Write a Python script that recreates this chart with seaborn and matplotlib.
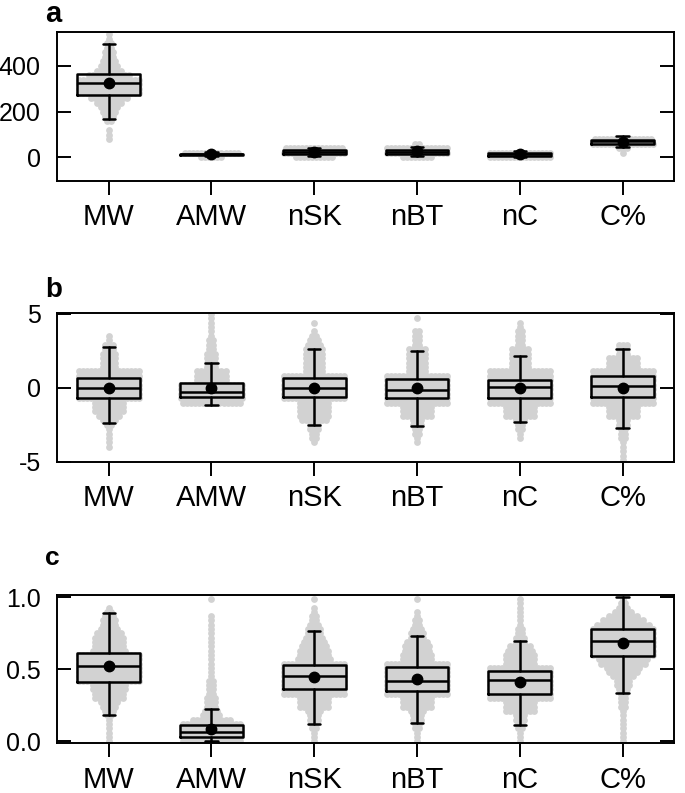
import numpy as np
import pandas as pd
import seaborn as sns
import matplotlib.pyplot as plt

cats = ['MW', 'AMW', 'nSK', 'nBT', 'nC', 'C%']

# ---- panel a: raw descriptors ----
a_q1 = [272, 11, 13, 15, 8, 60]
a_med = [324, 14, 22, 25, 14, 70]
a_q3 = [363, 17, 32, 33, 19, 77]
a_lo = [169, 4, 6, 6, 2, 46]
a_hi = [496, 25, 42, 47, 28, 92]
a_mean = [324, 15, 24, 27, 15, 66]
a_levels = [540, 520, 500, 480, 460, 440, 420, 400, 380, 360, 340, 320, 300, 280,
            260, 240, 220, 200, 180, 160, 140, 120, 100, 80, 60, 40, 20, 0]
a_counts = {
    'MW': [1, 1, 2, 2, 3, 3, 4, 5, 7, 11, 16, 16, 16, 16, 10, 7, 5, 4, 3, 2, 0, 1, 1, 1, 0, 0, 0, 0],
    'AMW': [0] * 26 + [14, 6],
    'nSK': [0] * 25 + [15, 16, 10],
    'nBT': [0] * 24 + [2, 16, 16, 8],
    'nC': [0] * 26 + [16, 16],
    'C%': [0] * 23 + [15, 16, 3, 1, 0],
}

# ---- panel b: standardised ----
b_q1 = [-0.72, -0.61, -0.65, -0.70, -0.68, -0.65]
b_med = [0.0, -0.27, 0.0, -0.16, 0.07, 0.14]
b_q3 = [0.68, 0.29, 0.63, 0.60, 0.52, 0.81]
b_lo = [-2.41, -1.19, -2.52, -2.57, -2.34, -2.75]
b_hi = [2.72, 1.64, 2.59, 2.50, 2.16, 2.61]
b_mean = [0.0, 0.0, 0.0, 0.0, 0.0, 0.0]
b_levels = [5.0, 4.7, 4.4, 4.1, 3.8, 3.5, 3.2, 2.9, 2.6, 2.3, 2.0, 1.7, 1.4, 1.1, 0.8, 0.5, 0.2,
            -0.1, -0.4, -0.7, -1.0, -1.3, -1.6, -1.9, -2.2, -2.5, -2.8, -3.1, -3.4, -3.7, -4.0,
            -4.3, -4.6, -4.9]
b_counts = {
    'MW': [0, 0, 0, 0, 0, 1, 1, 3, 3, 4, 4, 4, 4, 16, 16, 16, 16, 16, 16, 16,
           8, 8, 8, 6, 4, 2, 1, 1, 1, 1, 1, 0, 0, 0],
    'AMW': [1, 1, 1, 1, 1, 1, 2, 2, 2, 3, 3, 3, 3, 8, 8, 8, 16, 16, 16, 16,
            15, 0, 0, 0, 0, 0, 0, 0, 0, 0, 0, 0, 0, 0],
    'nSK': [0, 0, 1, 0, 1, 2, 3, 4, 5, 5, 5, 5, 5, 5, 16, 16, 16, 16, 16, 16,
            8, 8, 8, 8, 7, 3, 3, 2, 2, 1, 0, 0, 0, 0],
    'nBT': [0, 1, 0, 0, 2, 2, 2, 2, 5, 5, 5, 5, 5, 5, 16, 16, 16, 16, 16, 16,
            16, 8, 8, 8, 3, 3, 2, 2, 1, 1, 0, 0, 0, 0],
    'nC': [0, 0, 1, 1, 2, 2, 2, 2, 5, 5, 5, 5, 5, 16, 16, 16, 16, 16, 16, 16,
           16, 8, 8, 8, 3, 2, 2, 1, 1, 0, 0, 0, 0, 0],
    'C%': [0, 0, 0, 0, 0, 0, 0, 3, 3, 3, 8, 8, 8, 16, 16, 16, 16, 16, 16, 16,
           16, 8, 8, 8, 3, 3, 2, 2, 2, 1, 1, 1, 1, 1],
}

# ---- panel c: min-max scaled ----
c_q1 = [0.415, 0.03, 0.36, 0.35, 0.33, 0.595]
c_med = [0.525, 0.065, 0.45, 0.42, 0.425, 0.70]
c_q3 = [0.61, 0.11, 0.53, 0.515, 0.49, 0.78]
c_lo = [0.185, 0.0, 0.12, 0.125, 0.115, 0.335]
c_hi = [0.89, 0.225, 0.765, 0.735, 0.70, 1.0]
c_mean = [0.52, 0.085, 0.443, 0.435, 0.415, 0.68]
c_levels = [0.99, 0.96, 0.93, 0.90, 0.87, 0.84, 0.81, 0.78, 0.75, 0.72, 0.69, 0.66, 0.63,
            0.60, 0.57, 0.54, 0.51, 0.48, 0.45, 0.42, 0.39, 0.36, 0.33, 0.30, 0.27, 0.24,
            0.21, 0.18, 0.15, 0.12, 0.09, 0.06, 0.03, 0.00]
c_counts = {
    'MW': [0, 0, 1, 2, 3, 4, 4, 5, 7, 8, 8, 8, 9, 16, 16, 16, 16, 16, 16, 16,
           9, 9, 8, 8, 5, 4, 3, 2, 1, 1, 1, 1, 1, 1],
    'AMW': [1, 0, 0, 0, 1, 1, 1, 1, 1, 1, 1, 1, 1, 1, 1, 1, 1, 1, 1, 2,
            2, 2, 2, 3, 3, 3, 4, 5, 10, 15, 15, 15, 15, 15],
    'nSK': [1, 0, 1, 1, 2, 2, 3, 4, 4, 5, 6, 7, 8, 8, 9, 16, 16, 16, 16, 16,
            16, 16, 16, 8, 8, 8, 4, 3, 3, 2, 2, 1, 1, 1],
    'nBT': [1, 0, 0, 1, 1, 2, 2, 3, 4, 4, 6, 7, 7, 8, 8, 16, 16, 16, 16, 16,
            16, 16, 16, 8, 8, 8, 4, 3, 3, 2, 2, 1, 1, 1],
    'nC': [1, 1, 1, 1, 1, 1, 1, 2, 2, 3, 3, 6, 7, 8, 8, 8, 16, 16, 16, 16,
           16, 16, 16, 16, 8, 8, 8, 3, 3, 2, 2, 1, 1, 1],
    'C%': [1, 2, 3, 5, 8, 11, 14, 16, 16, 16, 16, 16, 16, 16, 13, 12, 9, 8, 6, 4,
           4, 3, 2, 2, 2, 2, 1, 1, 1, 1, 1, 1, 1, 1],
}

GREY = '#d2d2d2'
DX = 0.039  # horizontal spacing of swarm dots (category units)

sns.set_theme(style='ticks')
plt.rcParams['font.family'] = ['Liberation Sans', 'DejaVu Sans']
plt.rcParams['axes.unicode_minus'] = False
plt.rcParams['text.color'] = 'black'


def swarm_frame(levels, counts):
    rows = []
    for i, c in enumerate(cats):
        for y, n in zip(levels, counts[c]):
            for k in range(n):
                rows.append((i + (k - (n - 1) / 2) * DX, y))
    return pd.DataFrame(rows, columns=['x', 'y'])


def panel(ax, levels, counts, q1, med, q3, lo, hi, mean, ylim, yticks, yticklabels):
    df = swarm_frame(levels, counts)
    sns.scatterplot(data=df, x='x', y='y', ax=ax, color=GREY, s=24, linewidth=0,
                    alpha=1, legend=False, zorder=1)
    stats = [dict(med=med[i], q1=q1[i], q3=q3[i], whislo=lo[i], whishi=hi[i],
                  mean=mean[i], fliers=[]) for i in range(len(cats))]
    lp = dict(color='black', lw=1.8)
    ax.bxp(stats, positions=range(len(cats)), widths=0.61, capwidths=0.12,
           showmeans=True, showfliers=False, boxprops=lp, whiskerprops=lp,
           capprops=lp, medianprops=lp,
           meanprops=dict(marker='o', markerfacecolor='black', markeredgecolor='black',
                          markersize=7.5),
           manage_ticks=False)
    ax.set_xlim(-0.5, 5.5)
    ax.set_ylim(*ylim)
    ax.set_xticks(range(len(cats)), cats)
    ax.set_yticks(yticks, yticklabels)
    ax.set_xlabel('')
    ax.set_ylabel('')
    for s in ax.spines.values():
        s.set_visible(True)
        s.set_linewidth(1.4)
        s.set_color('black')
    ax.tick_params(axis='y', direction='in', left=True, right=True, length=10,
                   width=1.4, pad=12, labelsize=18, colors='black')
    ax.tick_params(axis='x', direction='out', bottom=True, length=10, width=1.4,
                   pad=6, labelsize=21, colors='black')


fig = plt.figure(figsize=(6.85, 7.93), dpi=100)
L, W = 57.3 / 685, (674 - 57.3) / 685

ax_a = fig.add_axes([L, 1 - 180.7 / 793, W, 149 / 793])
panel(ax_a, a_levels, a_counts, a_q1, a_med, a_q3, a_lo, a_hi, a_mean,
      (-102, 550), [0, 200, 400], ['0', '200', '400'])

ax_b = fig.add_axes([L, 1 - 461.7 / 793, W, 149 / 793])
panel(ax_b, b_levels, b_counts, b_q1, b_med, b_q3, b_lo, b_hi, b_mean,
      (-5, 5.07), [-5, 0, 5], ['-5', '0', '5'])

ax_c = fig.add_axes([L, 1 - 743.3 / 793, W, 148 / 793])
panel(ax_c, c_levels, c_counts, c_q1, c_med, c_q3, c_lo, c_hi, c_mean,
      (-0.015, 1.015), [0.0, 0.5, 1.0], ['0.0', '0.5', '1.0'])

fig.text(45 / 685, 1 - 21.5 / 793, 'a', fontsize=21, fontweight='bold',
         va='baseline', color='black')
fig.text(45 / 685, 1 - 297 / 793, 'b', fontsize=20, fontweight='bold',
         va='baseline', color='black')
fig.text(45 / 685, 1 - 565 / 793, 'c', fontsize=19, fontweight='bold',
         va='baseline', color='black')

fig.savefig('out.png', dpi=100)
